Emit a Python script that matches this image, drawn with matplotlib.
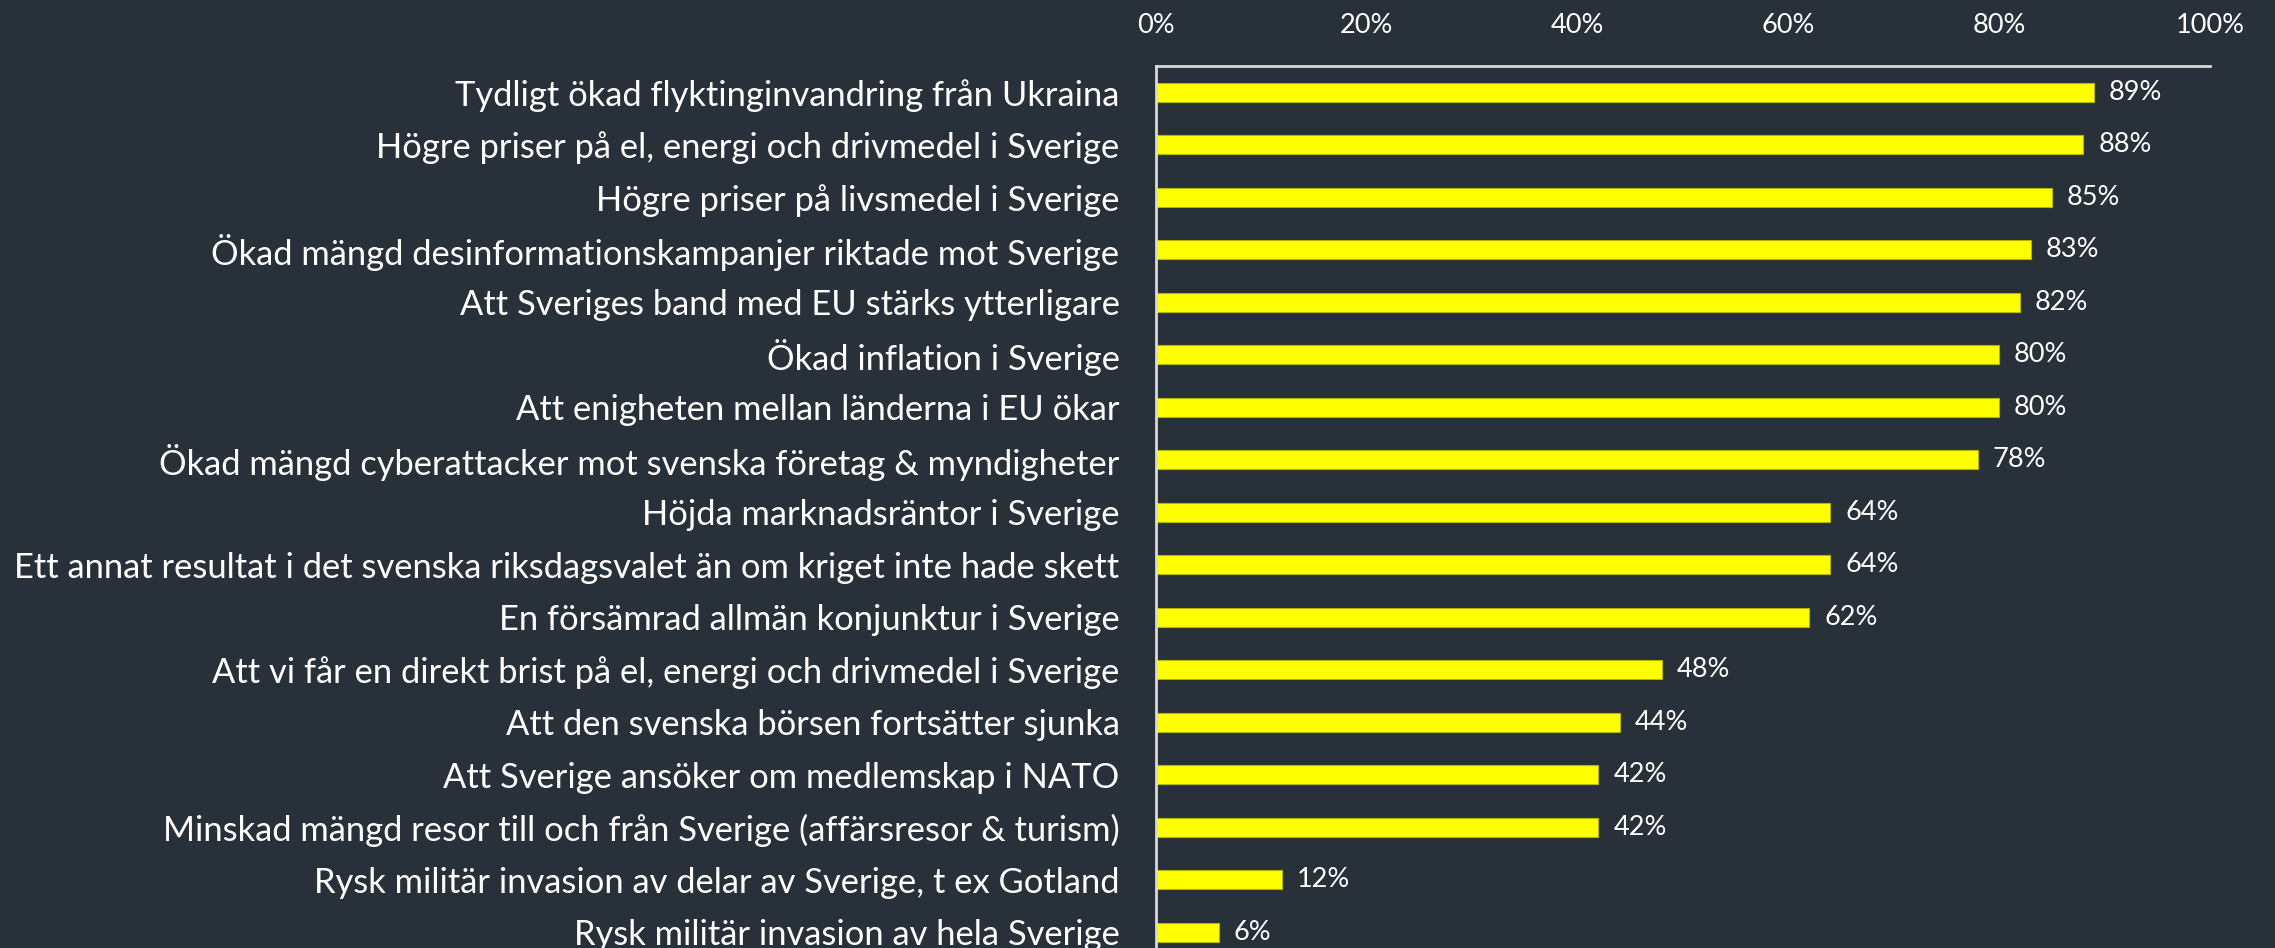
import matplotlib.pyplot as plt
from matplotlib.ticker import FuncFormatter

# Data
categories = [
    "Tydligt ökad flyktinginvandring från Ukraina",
    "Högre priser på el, energi och drivmedel i Sverige",
    "Högre priser på livsmedel i Sverige",
    "Ökad mängd desinformationskampanjer riktade mot Sverige",
    "Att Sveriges band med EU stärks ytterligare",
    "Ökad inflation i Sverige",
    "Att enigheten mellan länderna i EU ökar",
    "Ökad mängd cyberattacker mot svenska företag & myndigheter",
    "Höjda marknadsräntor i Sverige",
    "Ett annat resultat i det svenska riksdagsvalet än om kriget inte hade skett",
    "En försämrad allmän konjunktur i Sverige",
    "Att vi får en direkt brist på el, energi och drivmedel i Sverige",
    "Att den svenska börsen fortsätter sjunka",
    "Att Sverige ansöker om medlemskap i NATO",
    "Minskad mängd resor till och från Sverige (affärsresor & turism)",
    "Rysk militär invasion av delar av Sverige, t ex Gotland",
    "Rysk militär invasion av hela Sverige",
]
values = [89, 88, 85, 83, 82, 80, 80, 78, 64, 64, 62, 48, 44, 42, 42, 12, 6]
x_ticks = [0, 20, 40, 60, 80, 100]

BG = "#283139"
FG = "#FFFFFF"
BAR = "#FFFF00"

plt.rcParams['font.family'] = ['Lato', 'DejaVu Sans']

fig = plt.figure(figsize=(22.75, 9.48), dpi=100, facecolor=BG)
ax = fig.add_axes([0.508, -0.011, 0.4634, 0.9414], facecolor=BG)

y = list(range(len(categories)))
ax.barh(y, values, height=0.36, color=BAR, edgecolor="#B5B500", linewidth=0.8)

for yi, v in zip(y, values):
    ax.text(v + 1.4, yi, f"{v}%", va="center", ha="left", color=FG, fontsize=19.5)

ax.set_xlim(0, 100)
ax.set_ylim(len(categories) - 0.5, -0.5)
ax.set_yticks(y)
ax.set_yticklabels(categories, fontsize=24.8, color=FG)
ax.set_xticks(x_ticks)
ax.xaxis.set_major_formatter(FuncFormatter(lambda v, p: f"{v:.0f}%"))
ax.xaxis.tick_top()
ax.tick_params(axis="x", length=0, pad=20, labelsize=19.5, colors=FG)
ax.tick_params(axis="y", length=0, pad=26)

for side in ["right", "bottom"]:
    ax.spines[side].set_visible(False)
for side in ["left", "top"]:
    ax.spines[side].set_color("#D9D9D9")
    ax.spines[side].set_linewidth(2)

fig.savefig("out.png", dpi=100, facecolor=BG)
